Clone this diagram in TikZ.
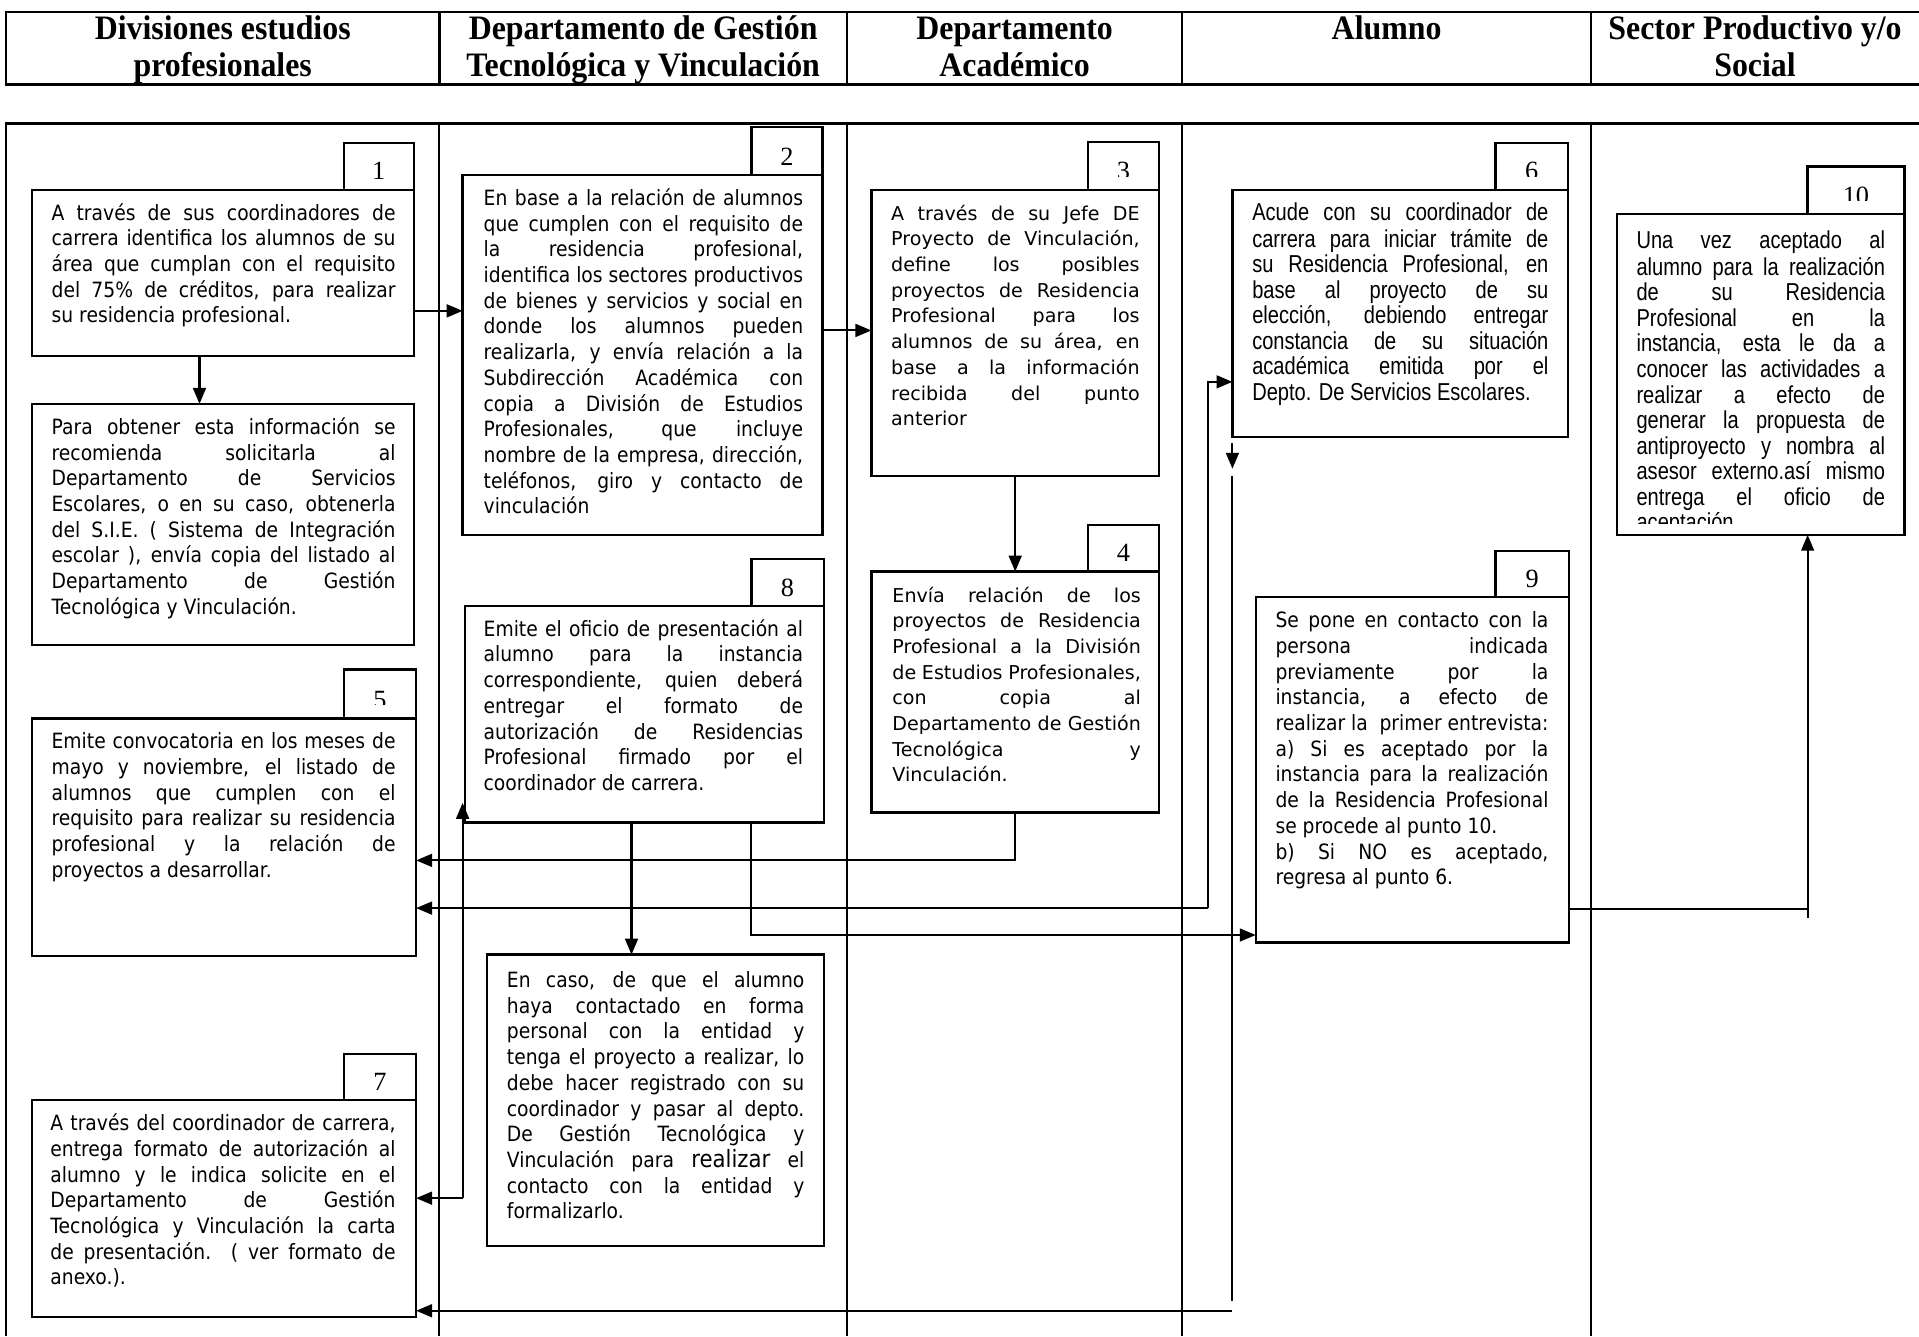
\documentclass[tikz,border=0pt]{standalone}
\usepackage{fontspec}
\setmainfont{Liberation Serif}
\newfontfamily\tahomaf[FakeStretch=0.89]{DejaVu Sans}
\newfontfamily\verdanaf{DejaVu Sans}
\newfontfamily\narrowf[FakeStretch=0.82]{Liberation Sans}
\newfontfamily\headf[FakeStretch=0.93]{Liberation Serif}
\usetikzlibrary{arrows.meta,fit}
\tolerance=10000 \hbadness=10000 \hyphenpenalty=10000 \exhyphenpenalty=10000
\begin{document}
\begin{tikzpicture}[x=1pt,y=-1pt,
  frame/.style={line width=2pt},
  lane/.style={line width=1.6pt},
  box/.style={draw,line width=1.9pt,fill=white,inner sep=0pt,outer sep=0pt},
  tabbox/.style={draw,line width=1.9pt,inner sep=0pt,outer sep=0pt},
  num/.style={font=\fontsize{21.5}{22}\selectfont,inner sep=0pt,anchor=base},
  txtT/.style={font=\tahomaf\fontsize{17.2}{21}\selectfont,align=justify,inner sep=0pt,anchor=north west},
  txtV/.style={font=\verdanaf\fontsize{15.6}{21}\selectfont,align=justify,inner sep=0pt,anchor=north west},
  txtN/.style={font=\narrowf\fontsize{20}{20.9}\selectfont,align=justify,inner sep=0pt,anchor=north west},
  head/.style={font=\headf\bfseries\fontsize{28}{30}\selectfont,align=center,inner sep=0pt,anchor=north},
  ln/.style={line width=1.7pt},
  arr/.style={line width=1.7pt,-{Triangle[length=13pt,width=10.5pt]}}
]
\useasboundingbox (0,0) rectangle (1568,1092);
\fill[white] (0,0) rectangle (1568,1092);

% header
\draw[frame] (1568,10) -- (5,10) -- (5,69) -- (1568,69);
\foreach \x in {359,692,966,1300} \draw[frame] (\x,10) -- (\x,69);
\node[head] (h1) at (182,11) {\strut Divisiones estudios\\profesionales};
\node[head] (h2) at (525.5,11) {\strut Departamento de Gestión\\Tecnológica y Vinculación};
\node[head] (h3) at (829,11) {\strut Departamento\\Académico};
\node[head] (h4) at (1133,11) {\strut Alumno};
\node[head] (h5) at (1434,11) {\strut Sector Productivo y/o\\Social};

% lanes
\draw[frame] (1568,101) -- (5,101) -- (5,1092);
\foreach \x in {359,692,966,1300} \draw[lane] (\x,101) -- (\x,1092);

% tabs
\node[tabbox,fit={(281,117)(338,155)}] (t1) {};
\node[tabbox,fit={(614,104)(672,143)}] (t2) {};
\node[tabbox,fit={(889,116)(947,155)}] (t3) {};
\node[tabbox,fit={(889,429)(947,467)}] (t4) {};
\node[tabbox,fit={(281,547)(340,587)}] (t5) {};
\node[tabbox,fit={(1222,117)(1281,155)}] (t6) {};
\node[tabbox,fit={(281,861)(340,899)}] (t7) {};
\node[tabbox,fit={(614,457)(673,495)}] (t8) {};
\node[tabbox,fit={(1222,450)(1282,488)}] (t9) {};
\node[tabbox,fit={(1477,136)(1556,175)}] (t10) {};

\node[num] (n1) at ([yshift=8pt]t1.south) {1};
\node[num] (n2) at ([yshift=8pt]t2.south) {2};
\node[num] (n4) at ([yshift=8pt]t4.south) {4};
\node[num] (n7) at ([yshift=8pt]t7.south) {7};
\node[num] (n8) at ([yshift=8pt]t8.south) {8};
\node[num] (n9) at ([yshift=8pt]t9.south) {9};
\begin{scope}
\clip (t3.north west) rectangle ([yshift=11pt]t3.south east);
\node[num] (n3) at ([yshift=8pt]t3.south) {3};
\end{scope}
\begin{scope}
\clip (t5.north west) rectangle ([yshift=11pt]t5.south east);
\node[num] (n5) at ([yshift=8pt]t5.south) {5};
\end{scope}
\begin{scope}
\clip (t6.north west) rectangle ([yshift=11pt]t6.south east);
\node[num] (n6) at ([yshift=8pt]t6.south) {6};
\end{scope}
\begin{scope}
\clip (t10.north west) rectangle ([yshift=11pt]t10.south east);
\node[num] (n10) at ([yshift=8pt]t10.south) {10};
\end{scope}

% boxes
\node[box,fit={(26,155)(338,291)}] (b1) {};
\node[box,fit={(26,330)(338,527)}] (b1b) {};
\node[box,fit={(378,143)(672,437)}] (b2) {};
\node[box,fit={(712,155)(947,389)}] (b3) {};
\node[box,fit={(712,467)(947,664)}] (b4) {};
\node[box,fit={(26,587)(340,781)}] (b5) {};
\node[box,fit={(1007,155)(1281,357)}] (b6) {};
\node[box,fit={(26,899)(340,1076)}] (b7) {};
\node[box,fit={(380,495)(673,672)}] (b8) {};
\node[box,fit={(398,780)(673,1018)}] (bc) {};
\node[box,fit={(1026,488)(1282,770)}] (b9) {};
\node[box,fit={(1321,175)(1556,437)}] (b10) {};

% texts
\node[txtT,text width=281pt] (x1) at ([xshift=16pt,yshift=-10pt]b1.north west) {\strut A través de sus coordinadores de\linebreak carrera identifica los alumnos de su\linebreak área que cumplan con el requisito\linebreak del 75\% de créditos, para realizar\linebreak su residencia profesional.};
\node[txtT,text width=281pt] (x1b) at ([xshift=16pt,yshift=-10pt]b1b.north west) {\strut Para obtener esta información se\linebreak recomienda solicitarla al\linebreak Departamento de Servicios\linebreak Escolares, o en su caso, obtenerla\linebreak del S.I.E. ( Sistema de Integración\linebreak escolar ), envía copia del listado al\linebreak Departamento de Gestión\linebreak Tecnológica y Vinculación.};
\node[txtT,text width=261pt] (x2) at ([xshift=17pt,yshift=-10pt]b2.north west) {\strut En base a la relación de alumnos\linebreak que cumplen con el requisito de\linebreak la residencia profesional,\linebreak identifica los sectores productivos\linebreak de bienes y servicios y social en\linebreak donde los alumnos pueden\linebreak realizarla, y envía relación a la\linebreak Subdirección Académica con\linebreak copia a División de Estudios\linebreak Profesionales, que incluye\linebreak nombre de la empresa, dirección,\linebreak teléfonos, giro y contacto de\linebreak vinculación};
\node[txtV,text width=203pt] (x3) at ([xshift=16pt,yshift=-10pt]b3.north west) {\strut A través de su Jefe DE\linebreak Proyecto de Vinculación,\linebreak define los posibles\linebreak proyectos de Residencia\linebreak Profesional para los\linebreak alumnos de su área, en\linebreak base a la información\linebreak recibida del punto\linebreak anterior};
\node[txtV,text width=203pt] (x4) at ([xshift=17pt,yshift=-10pt]b4.north west) {\strut Envía relación de los\linebreak proyectos de Residencia\linebreak Profesional a la División\linebreak de Estudios Profesionales,\linebreak con copia al\linebreak Departamento de Gestión\linebreak Tecnológica y\linebreak Vinculación.};
\node[txtT,text width=281pt] (x5) at ([xshift=16pt,yshift=-10pt]b5.north west) {\strut Emite convocatoria en los meses de\linebreak mayo y noviembre, el listado de\linebreak alumnos que cumplen con el\linebreak requisito para realizar su residencia\linebreak profesional y la relación de\linebreak proyectos a desarrollar.};
\node[txtN,text width=242pt] (x6) at ([xshift=16pt,yshift=-10pt]b6.north west) {\strut Acude con su coordinador de\linebreak carrera para iniciar trámite de\linebreak su Residencia Profesional, en\linebreak base al proyecto de su\linebreak elección, debiendo entregar\linebreak constancia de su situación\linebreak académica emitida por el\linebreak Depto. De Servicios Escolares.};
\node[txtT,text width=282pt] (x7) at ([xshift=15pt,yshift=-10pt]b7.north west) {\strut A través del coordinador de carrera,\linebreak entrega formato de autorización al\linebreak alumno y le indica solicite en el\linebreak Departamento de Gestión\linebreak Tecnológica y Vinculación la carta\linebreak de presentación. ( ver formato de\linebreak anexo.).};
\node[txtT,text width=261pt] (x8) at ([xshift=15pt,yshift=-10pt]b8.north west) {\strut Emite el oficio de presentación al\linebreak alumno para la instancia\linebreak correspondiente, quien deberá\linebreak entregar el formato de\linebreak autorización de Residencias\linebreak Profesional firmado por el\linebreak coordinador de carrera.};
\node[txtT,text width=243pt] (xc) at ([xshift=16pt,yshift=-12pt]bc.north west) {\strut En caso, de que el alumno\linebreak haya contactado en forma\linebreak personal con la entidad y\linebreak tenga el proyecto a realizar, lo\linebreak debe hacer registrado con su\linebreak coordinador y pasar al depto.\linebreak De Gestión Tecnológica y\linebreak Vinculación para {\fontsize{19.5}{21}\selectfont realizar} el\linebreak contacto con la entidad y\linebreak formalizarlo.};
\node[txtT,text width=223pt] (x9) at ([xshift=16pt,yshift=-10pt]b9.north west) {\strut Se pone en contacto con la\linebreak persona indicada\linebreak previamente por la\linebreak instancia, a efecto de\linebreak realizar la\ \ primer entrevista:\linebreak a) Si es aceptado por la\linebreak instancia para la realización\linebreak de la Residencia Profesional\linebreak se procede al punto 10.\par b) Si NO es aceptado,\linebreak regresa al punto 6.};
\begin{scope}
\clip (b10.north west) rectangle ([yshift=9pt]b10.south east);
\node[txtN,text width=203pt] (x10) at ([xshift=16pt,yshift=-13pt]b10.north west) {\strut Una vez aceptado al\linebreak alumno para la realización\linebreak de su Residencia\linebreak Profesional en la\linebreak instancia, esta le da a\linebreak conocer las actividades a\linebreak realizar a efecto de\linebreak generar la propuesta de\linebreak antiproyecto y nombra al\linebreak asesor externo.así mismo\linebreak entrega el oficio de\linebreak aceptación};
\end{scope}

% connectors
\draw[arr] (b1.south -| 163,0) -- (b1b.north -| 163,0);
\draw[arr] (b1.east |- 0,254) -- (b2.west |- 0,254);
\draw[arr] (b2.east |- 0,270) -- (b3.west |- 0,270);
\draw[arr] (b3.south) -- (b4.north);
\draw[arr] (b4.south) |- (b5.east |- 0,703);
\coordinate (j6) at (987,742);
\draw[arr] (j6) -- (j6 -| b5.east);
\draw[arr] (j6) |- (b6.west |- 0,312);
\draw[arr] ([yshift=-5pt]b6.south west) -- ([yshift=-26pt]b6.south west);
\coordinate (v7) at (1007,389);
\coordinate (r7) at (1007,1071);
\draw[ln] (v7) -- (1007,1063);
\draw[arr] (r7) -- (r7 -| b7.east);
\coordinate (j8) at (378,979);
\draw[arr] (j8) -- (j8 -| b7.east);
\draw[arr] (j8) -- (j8 |- 0,656);
\draw[arr] (b8.south -| 516,0) -- (bc.north -| 516,0);
\draw[arr] (b8.south -| 614,0) |- (b9.west |- 0,764);
\draw[arr] (b9.east |- 0,743) -| (b10.south -| 1477,0);
\draw[ln] (1477,743) -- (1477,750);
\end{tikzpicture}
\end{document}
